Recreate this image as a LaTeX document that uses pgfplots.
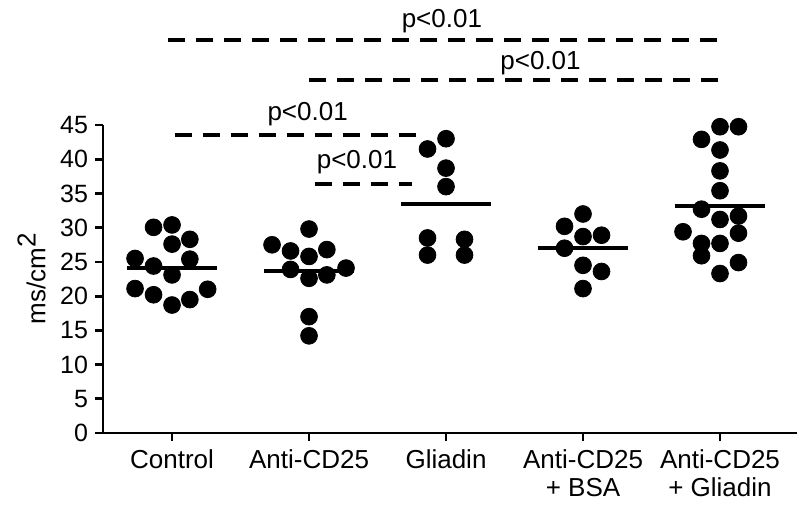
\documentclass[border=0pt]{standalone}
\usepackage{pgfplots}
\pgfplotsset{compat=1.18}
\usepackage{fontspec}
\setmainfont{Liberation Sans}
\begin{document}
\begin{tikzpicture}
\useasboundingbox (-51.5pt,-39pt) rectangle (348.5pt,216.5pt);
\begin{axis}[
  at={(0,0)}, anchor=south west,
  scale only axis, width=347pt, height=154pt,
  xmin=-0.504, xmax=4.562, ymin=0, ymax=45,
  axis x line=bottom, axis y line=left,
  axis line style={line width=1.4pt,-},
  xtick={0,1,2,3,4},
  xticklabels={Control, Anti-CD25, Gliadin, {Anti-CD25\\+ BSA}, {Anti-CD25\\+ Gliadin}},
  ytick={0,5,...,45},
  tick align=outside, major tick length=4pt,
  tick style={line width=1.4pt, black},
  xticklabel style={align=center, font=\fontsize{13}{14}\selectfont, yshift=-1pt},
  yticklabel style={font=\fontsize{12.5}{13}\selectfont},
  /pgf/number format/assume math mode=true,
  ylabel={ms/cm\raisebox{0.7ex}{2}},
  ylabel style={font=\fontsize{13}{14}\selectfont, at={(axis description cs:-0.103,0.5)}, anchor=center},
  clip=false,
]
% dots
\addplot[only marks, mark=*, mark size=4.2pt, black] coordinates {
(-0.135,30.05) (0,30.4) (0,27.6) (0.13,28.3) (-0.27,25.5) (-0.135,24.4) (0.13,25.4)
(0,23.1) (-0.27,21.1) (-0.135,20.2) (0,18.7) (0.13,19.5) (0.26,21.0)};
\addplot[only marks, mark=*, mark size=4.2pt, black] coordinates {
(1,29.8) (0.73,27.5) (0.865,26.6) (1.13,26.8) (1,25.8) (0.865,23.9) (1.27,24.1)
(1,22.6) (1.13,23.1) (1,17.0) (1,14.2)};
\addplot[only marks, mark=*, mark size=4.2pt, black] coordinates {
(2,43.0) (1.865,41.5) (2,38.7) (2,36.0) (1.865,28.5) (2.135,28.3) (1.865,26.0) (2.135,26.0)};
\addplot[only marks, mark=*, mark size=4.2pt, black] coordinates {
(3,32.0) (2.865,30.2) (3,28.7) (3.135,28.9) (2.865,27.0) (3,24.5) (3.135,23.6) (3,21.1)};
\addplot[only marks, mark=*, mark size=4.2pt, black] coordinates {
(4,44.75) (4.135,44.75) (3.865,42.9) (4,41.35) (4,38.3) (4,35.4) (3.865,32.7) (4,31.2)
(4.135,31.7) (3.73,29.4) (4.135,29.2) (3.865,27.7) (4,27.7) (3.865,25.9) (4.135,24.9) (4,23.3)};
% means
\addplot[black, line width=2pt] coordinates {(-0.33,24.15) (0.33,24.15)};
\addplot[black, line width=2pt] coordinates {(0.67,23.6) (1.33,23.6)};
\addplot[black, line width=2pt] coordinates {(1.67,33.5) (2.33,33.5)};
\addplot[black, line width=2pt] coordinates {(2.67,27.0) (3.33,27.0)};
\addplot[black, line width=2pt] coordinates {(3.67,33.1) (4.33,33.1)};
% significance
\addplot[black, line width=2pt, dash pattern=on 8.5pt off 5.5pt] coordinates {(-0.03,57.4) (3.99,57.4)};
\addplot[black, line width=2pt, dash pattern=on 8.5pt off 5.5pt] coordinates {(1.0,51.6) (4.0,51.6)};
\addplot[black, line width=2pt, dash pattern=on 8.5pt off 5.5pt] coordinates {(0.02,43.5) (1.81,43.5)};
\addplot[black, line width=2pt, dash pattern=on 8.5pt off 5.5pt] coordinates {(1.04,36.4) (1.75,36.4)};
\node[font=\fontsize{13}{14}\selectfont] at (axis cs:1.97,60.2) {p<0.01};
\node[font=\fontsize{13}{14}\selectfont] at (axis cs:2.69,54.1) {p<0.01};
\node[font=\fontsize{13}{14}\selectfont] at (axis cs:0.99,46.6) {p<0.01};
\node[font=\fontsize{13}{14}\selectfont] at (axis cs:1.35,39.6) {p<0.01};
\end{axis}
\end{tikzpicture}
\end{document}
